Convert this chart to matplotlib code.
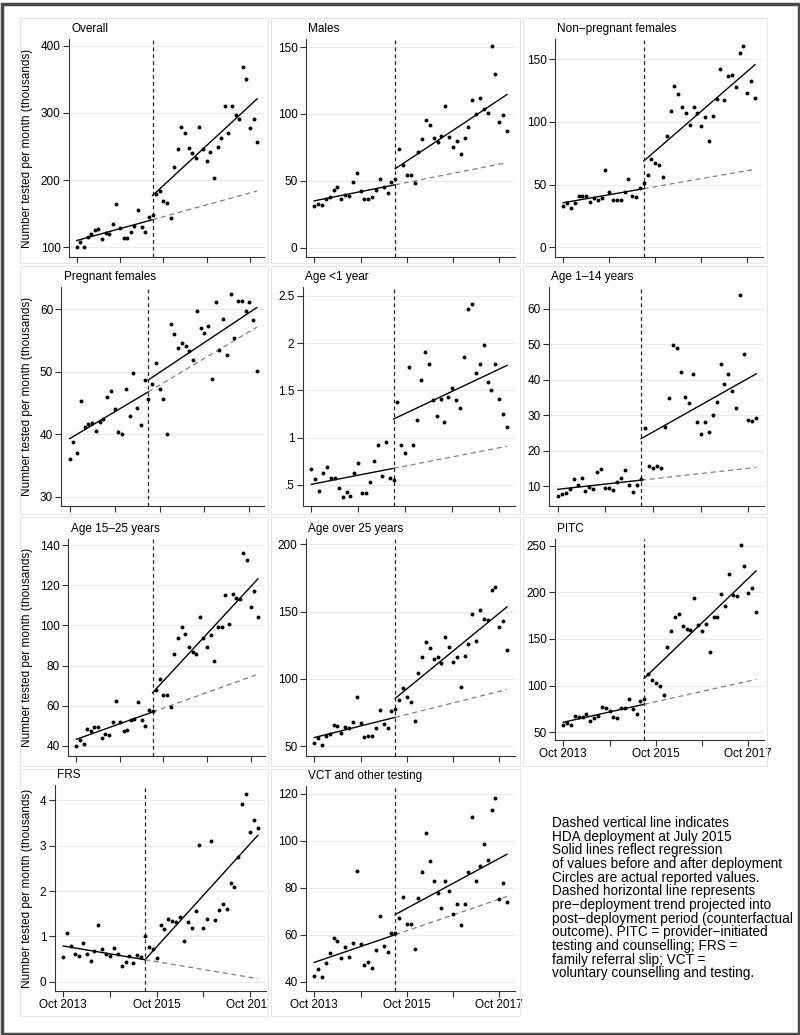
import numpy as np
import matplotlib
matplotlib.use("Agg")
import matplotlib.pyplot as plt
from matplotlib.patches import Rectangle
from matplotlib.transforms import Bbox, TransformedBbox

plt.rcParams['font.family'] = ['Liberation Sans', 'DejaVu Sans']

# months since Oct 2013; July 2015 = 21 (deployment)
months = np.arange(51)
deploy = 21
tick_months = [0, 12, 24, 36, 48]
tick_names = ["Oct 2013", "", "Oct 2015", "", "Oct 2017"]

overall_vals = [100, 107.5, 100.5, 116, 119, 126, 127, 113, 121, 119, 134, 164, 129, 114, 114, 123,
                131, 155, 130, 123, 145, 148,
                180, 183.5, 169, 166, 144, 219, 247, 279, 270, 248, 240, 233, 279, 247, 229, 242,
                203, 249, 262, 311, 270, 311, 297, 291, 368, 351, 278, 291, 257]
males_vals = [31, 33, 32, 36, 37.5, 43, 45, 36, 39, 38.5, 49, 56, 42, 36, 36.5, 38, 43, 51, 45, 41,
              49, 51,
              74, 62, 54, 54.5, 48.5, 71.5, 81, 95.5, 92, 82, 79, 83.5, 106, 82.5, 75.5, 80, 70, 82,
              90, 110.5, 100, 112, 104, 101, 151, 130, 94, 99.5, 87]
nonpreg_vals = [33, 35, 31, 35.6, 40.7, 41.2, 40.7, 36.4, 39.4, 37.8, 39.4, 61.4, 43.9, 37.8, 37.8,
                37.8, 44.4, 54.3, 41.2, 40.2, 47.3, 51.3,
                57.7, 70.7, 67.3, 65.7, 56.1, 89.1, 109, 128.7, 122.6, 112, 107.2, 97.3, 112, 107.4,
                97.1, 104, 84.6, 104.8, 118, 142, 117.3, 136.4, 137.5, 128.2, 155, 161, 123.4,
                132.4, 119.4]
preg_vals = [36, 38.8, 37, 45.4, 41.2, 41.6, 41.8, 40.6, 42, 42.4, 45.9, 47, 44, 40.4, 40.1, 47.2,
             43, 49.8, 44.2, 41.5, 48.7, 45.6,
             48, 51.4, 47.3, 45.7, 40.1, 57.6, 56, 53.8, 54.7, 54.1, 53.4, 51.9, 59.8, 57, 56.2,
             57.4, 48.8, 61.2, 53.5, 58.4, 52.7, 62.4, 55.5, 61.3, 61.4, 59.7, 61.2, 58.3, 50.2]
age0_vals = [0.666, 0.56, 0.433, 0.623, 0.694, 0.577, 0.577, 0.468, 0.377, 0.43, 0.384, 0.627,
             0.729, 0.415, 0.42, 0.528, 0.754, 0.923, 0.595, 0.954, 0.574, 0.553,
             1.373, 0.923, 0.842, 1.746, 0.923, 1.19, 1.606, 1.9, 1.778, 1.398, 1.232, 1.408,
             1.169, 1.43, 1.52, 1.394, 1.317, 1.849, 2.36, 2.412, 1.687, 1.782, 1.982, 1.592,
             1.5, 1.775, 1.408, 1.246, 1.113]
age1_vals = [7.2, 7.7, 8.0, 9.3, 11.9, 10.2, 12.2, 8.5, 9.7, 9.1, 13.9, 14.8, 9.6, 9.4, 8.9, 11.1,
             12.4, 14.5, 10.2, 8.4, 10.3, 12.1,
             26.4, 15.8, 15, 15.8, 15.2, 26.7, 34.8, 49.7, 49.1, 42.1, 35.3, 33.6, 41.6, 28.2,
             24.8, 28.2, 25.3, 30.2, 33.8, 44.4, 38.8, 41.7, 36.8, 32.1, 63.9, 47.4, 28.7, 28.5,
             29.1]
age15_vals = [40, 42.8, 41.2, 48.5, 47.3, 49.3, 49.3, 43.8, 46, 45.5, 52.1, 62.2, 52.1, 47.3, 47.8,
              53.1, 53.6, 61.9, 53.1, 50, 57.9, 57.4,
              67.7, 73.2, 65.4, 65.4, 59.6, 85.8, 93.9, 99, 95.9, 89.1, 86.6, 85.8, 104, 93.6,
              89.3, 95.1, 82.3, 99.2, 99, 115.1, 100.9, 115.8, 113.8, 113.1, 136, 132.5, 109.2,
              117, 104.3]
age25_vals = [52.7, 56.2, 51, 57.9, 59.4, 65.8, 64.9, 60.1, 64.6, 63.4, 67.8, 86.4, 67.6, 56.9,
              57.9, 57.9, 63.4, 77, 66.6, 63.6, 76, 77.5,
              84.7, 93.6, 86.4, 82.7, 68.8, 104.7, 116.1, 127.2, 122.8, 114.9, 116.3, 111.9,
              130.9, 124, 112.6, 116.1, 94.3, 116.8, 126, 148.3, 128.5, 151.2, 144.6, 143.6,
              166.1, 168.1, 138.4, 143.3, 121.5]
pitc_vals = [57.5, 60.4, 57.5, 67.5, 66.4, 66.1, 69.3, 62.1, 65.4, 67.5, 77.1, 75.7, 72.9, 66.1,
             65.7, 76.4, 76.4, 86.1, 75, 69.3, 83.2, 85.7,
             112.5, 106.4, 103.2, 99.6, 89.6, 141.1, 158.2, 173.2, 176.4, 163.9, 160.4, 160,
             193.6, 165, 158.6, 166.4, 135.7, 173.9, 173.2, 198.6, 185, 219.3, 196.8, 196.4,
             251.1, 228.2, 199.3, 204.6, 178.9]
frs_vals = [0.551, 1.074, 0.794, 0.61, 0.566, 0.846, 0.61, 0.449, 0.676, 1.25, 0.72, 0.603, 0.559,
            0.743, 0.61, 0.338, 0.426, 0.559, 0.412, 0.596, 0.551, 1.015,
            0.757, 0.713, 0.529, 1.243, 1.162, 1.39, 1.338, 1.316, 1.434, 0.89, 1.316, 1.176,
            1.559, 3.022, 1.176, 1.39, 3.103, 1.36, 1.574, 1.706, 1.61, 2.184, 2.081, 2.75,
            3.919, 4.14, 3.294, 3.566, 3.397]
vct_vals = [42.4, 45.4, 42.1, 48, 52.1, 58.6, 57.2, 50.2, 54.9, 50.4, 56.5, 87.3, 56, 47.1, 48.5,
            45.8, 53.6, 67.8, 55.3, 52.6, 60.7, 60.7,
            67.1, 76.2, 64.6, 64.7, 53.8, 75.8, 86.9, 103.5, 91.6, 82.8, 77.9, 71.5, 82.8, 78.8,
            69, 73.2, 64.3, 73.1, 86.6, 110.2, 83, 89.4, 98.5, 91.7, 113, 118.4, 75.2, 82.2,
            74.1]

# fitted lines: (value at Oct 2013, value at Jul 2015) and (Jul 2015, Dec 2017)
overall_fit = [(110, 141), (177, 321)]
males_fit = [(35, 47), (59, 114.5)]
nonpreg_fit = [(35.6, 46.8), (68.9, 145.7)]
preg_fit = [(39.3, 46.8), (48.7, 60.3)]
age0_fit = [(0.507, 0.676), (1.197, 1.764)]
age1_fit = [(9.1, 11.7), (23.4, 41.7)]
age15_fit = [(43.3, 56.9), (66.5, 123.2)]
age25_fit = [(56.5, 71.5), (85.6, 153.5)]
pitc_fit = [(60.7, 80), (107.9, 222.9)]
frs_fit = [(0.787, 0.485), (0.485, 3.228)]
vct_fit = [(48.2, 60), (68.6, 94.3)]

titles = ["Overall", "Males", "Non\u2212pregnant females", "Pregnant females", "Age <1 year",
          "Age 1\u201314 years", "Age 15\u201325 years", "Age over 25 years", "PITC", "FRS",
          "VCT and other testing"]
yticks = [[100, 200, 300, 400], [0, 50, 100, 150], [0, 50, 100, 150], [30, 40, 50, 60],
          [0.5, 1, 1.5, 2, 2.5], [10, 20, 30, 40, 50, 60], [40, 60, 80, 100, 120, 140],
          [50, 100, 150, 200], [50, 100, 150, 200, 250], [0, 1, 2, 3, 4], [40, 60, 80, 100, 120]]
ytick_names = [None, None, None, None, [".5", "1", "1.5", "2", "2.5"], None, None, None, None,
               None, None]
ylims = [(85.5, 410), (-7, 156), (-7.7, 166.2), (28.5, 63.6), (0.278, 2.592), (4.4, 66.2),
         (35, 143), (42.8, 203.9), (41.7, 257.2), (-0.205, 4.338), (36, 123.4)]
series = [overall_vals, males_vals, nonpreg_vals, preg_vals, age0_vals, age1_vals, age15_vals,
          age25_vals, pitc_vals, frs_vals, vct_vals]
fits = [overall_fit, males_fit, nonpreg_fit, preg_fit, age0_fit, age1_fit, age15_fit, age25_fit,
        pitc_fit, frs_fit, vct_fit]

# layout in pixels: x of Oct 2013 tick, x of Oct 2017 tick, axes top, axes bottom
W, H = 800, 1035
p0 = [76.7, 314.3, 563.3, 69.7, 311.3, 557.7, 76.3, 314.3, 563.3, 63.3, 314.3]
p48 = [250, 499.3, 747.3, 249.3, 499.3, 748.3, 250.7, 499.3, 748.3, 250, 499.3]
tops = [39, 39, 39, 287, 287, 287, 539, 539, 539, 785, 786]
bottoms = [257, 257, 257, 506, 506, 506, 756, 756, 740, 991, 991]
xlim = (-2.2, 52)

fig = plt.figure(figsize=(W / 100, H / 100), dpi=100)
fig.patch.set_facecolor("white")

# outer frame and panel boxes
fig.add_artist(Rectangle((1.5 / W, 1.5 / H), 1 - 3 / W, 1 - 5 / H, transform=fig.transFigure,
                         fill=False, ec="#4a4a4a", lw=2.5))
box_x = [(20, 268), (271, 520), (523, 767)]
box_y = [(18, 263), (266, 514), (517, 766), (769, 1016)]
for r, (y0, y1) in enumerate(box_y):
    for c, (x0, x1) in enumerate(box_x):
        if r == 3 and c == 2:
            continue
        fig.add_artist(Rectangle((x0 / W, 1 - y1 / H), (x1 - x0) / W, (y1 - y0) / H,
                                 transform=fig.transFigure, fill=False, ec="#e6e6e6", lw=0.8))

bottom_labelled = {8, 9, 10}
for i in range(11):
    s = (p48[i] - p0[i]) / 48
    left = p0[i] + xlim[0] * s
    right = p0[i] + xlim[1] * s
    ax = fig.add_axes([left / W, 1 - bottoms[i] / H, (right - left) / W,
                       (bottoms[i] - tops[i]) / H])
    vals = np.array(series[i])
    ax.scatter(months, vals, s=8, color="black", zorder=3, lw=0)
    pre_fit, post_fit = fits[i]
    ax.plot([0, deploy], pre_fit, color="black", lw=1.0, zorder=2)
    ax.plot([deploy, months[-1]], post_fit, color="black", lw=1.0, zorder=2)
    slope = (pre_fit[1] - pre_fit[0]) / deploy
    cf_end = pre_fit[1] + slope * (months[-1] - deploy)
    ax.plot([deploy, months[-1]], [pre_fit[1], cf_end], color="#808080", lw=0.9,
            dashes=(4, 3), zorder=2)
    ax.axvline(deploy, color="#222222", lw=0.9, dashes=(3, 2.5), zorder=2)

    ax.set_xlim(*xlim)
    ax.set_ylim(*ylims[i])
    ax.set_yticks(yticks[i])
    if ytick_names[i] is not None:
        ax.set_yticklabels(ytick_names[i])
    ax.set_xticks(tick_months)
    if i in bottom_labelled:
        labels = ax.set_xticklabels(tick_names)
        if i == 9:
            # the right-hand label is cut by the panel box in the original
            clip = TransformedBbox(Bbox([[20 / W, 0], [268 / W, 1]]), fig.transFigure)
            for lbl in labels:
                lbl.set_clip_box(clip)
                lbl.set_clip_on(True)
    else:
        ax.set_xticklabels([])
    ax.grid(axis="y", color="#ebebeb", lw=0.8)
    ax.set_axisbelow(True)
    for side in ["top", "right"]:
        ax.spines[side].set_visible(False)
    for side in ["left", "bottom"]:
        ax.spines[side].set_color("#333333")
        ax.spines[side].set_linewidth(0.8)
    ax.tick_params(direction="out", length=4, width=0.8, color="#333333",
                   labelsize=8.5, pad=2)
    if i in (0, 3, 6, 9):
        ax.set_ylabel("Number tested per month (thousands)", fontsize=8.5)
        ax.yaxis.label.set_va("center")
        ax.yaxis.set_label_coords((27 - left) / (right - left), 0.5)
    fig.text((left + 2.5) / W, 1 - (tops[i] - 10) / H, titles[i], fontsize=8.5,
             ha="left", va="center")

note = ("Dashed vertical line indicates\n"
        "HDA deployment at July 2015\n"
        "Solid lines reflect regression\n"
        "of values before and after deployment\n"
        "Circles are actual reported values.\n"
        "Dashed horizontal line represents\n"
        "pre\u2212deployment trend projected into\n"
        "post\u2212deployment period (counterfactual\n"
        "outcome). PITC = provider\u2212initiated\n"
        "testing and counselling; FRS =\n"
        "family referral slip; VCT =\n"
        "voluntary counselling and testing.")
fig.text(552 / W, 1 - 816 / H, note, fontsize=9.8, ha="left", va="top", linespacing=0.97)

fig.savefig("out.png", dpi=100)
